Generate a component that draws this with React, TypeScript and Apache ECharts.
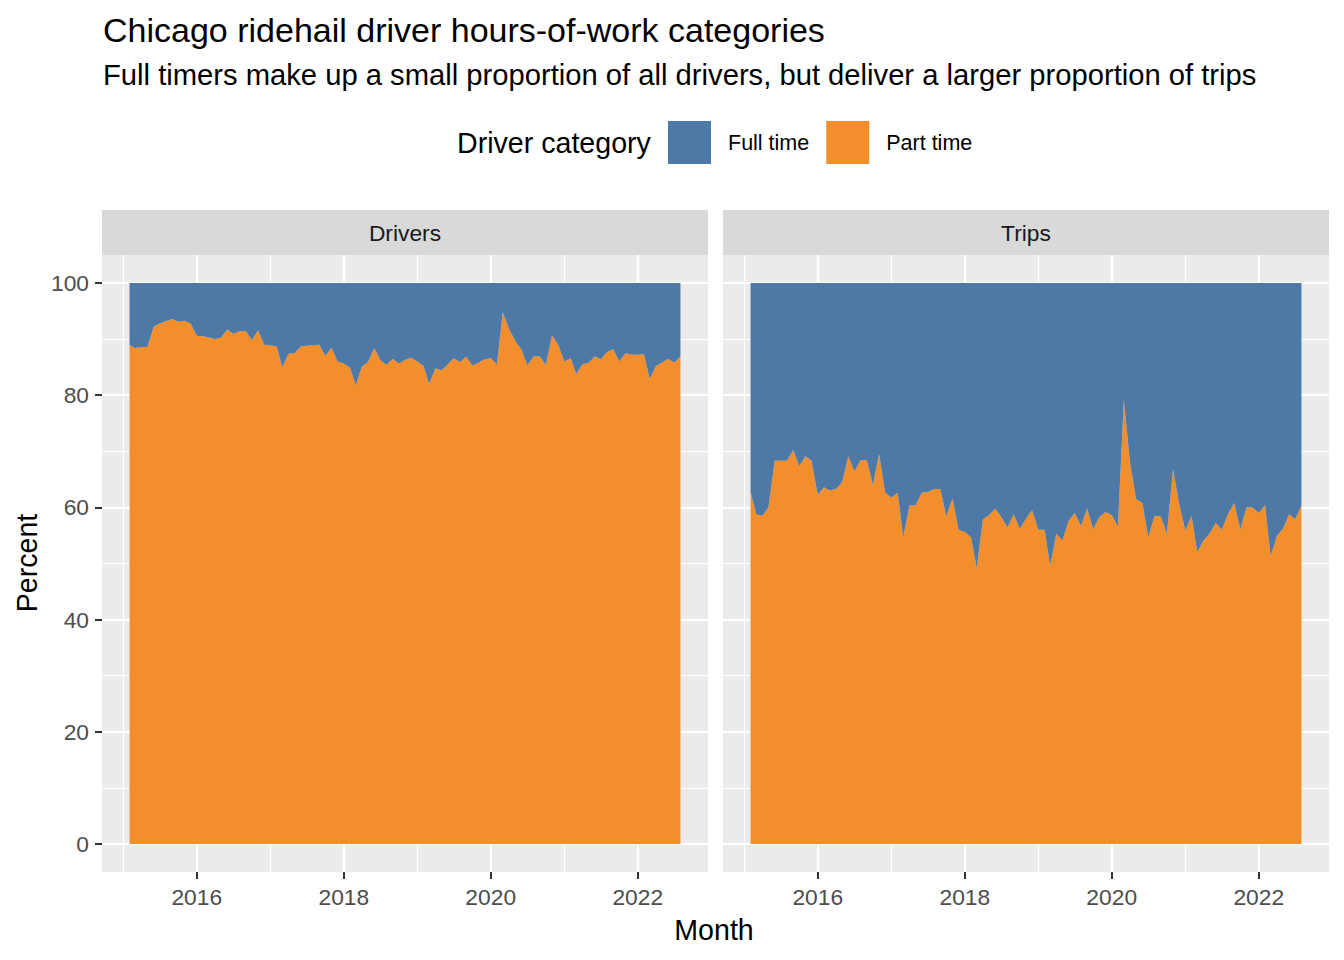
import React, { useEffect, useRef } from "react";
import * as echarts from "echarts";

const START_YEAR = 2015;
const START_MONTH = 1; // 0-based: February
const N_MONTHS = 91;

const driversPart = [
  88.9, 88.4, 88.6, 88.6, 92.2, 92.8, 93.2, 93.6, 93.1, 93.3, 92.8,
  90.6, 90.5, 90.3, 90.0, 90.3, 91.7, 90.9, 91.4, 91.4, 89.8, 91.6, 89.0,
  88.9, 88.7, 85.0, 87.4, 87.5, 88.7, 88.8, 88.9, 89.0, 87.0, 88.4, 86.0,
  85.6, 84.9, 81.8, 85.1, 85.9, 88.4, 86.3, 85.4, 86.5, 85.6, 86.3, 86.7,
  86.0, 85.2, 82.0, 84.8, 84.4, 85.5, 86.6, 85.9, 86.9, 85.3, 85.8, 86.4,
  86.6, 85.5, 94.8, 91.8, 89.7, 88.2, 85.3, 86.9, 86.9, 85.4, 90.7, 89.0,
  86.0, 86.6, 83.8, 85.5, 85.8, 86.9, 86.4, 87.7, 88.2, 86.0, 87.5, 87.2,
  87.2, 87.3, 82.9, 85.2, 85.8, 86.5, 85.8, 86.9,
];
const driversFull = [
  11.1, 11.6, 11.4, 11.4, 7.8, 7.2, 6.8, 6.4, 6.9, 6.7, 7.2,
  9.4, 9.5, 9.7, 10.0, 9.7, 8.3, 9.1, 8.6, 8.6, 10.2, 8.4, 11.0,
  11.1, 11.3, 15.0, 12.6, 12.5, 11.3, 11.2, 11.1, 11.0, 13.0, 11.6, 14.0,
  14.4, 15.1, 18.2, 14.9, 14.1, 11.6, 13.7, 14.6, 13.5, 14.4, 13.7, 13.3,
  14.0, 14.8, 18.0, 15.2, 15.6, 14.5, 13.4, 14.1, 13.1, 14.7, 14.2, 13.6,
  13.4, 14.5, 5.2, 8.2, 10.3, 11.8, 14.7, 13.1, 13.1, 14.6, 9.3, 11.0,
  14.0, 13.4, 16.2, 14.5, 14.2, 13.1, 13.6, 12.3, 11.8, 14.0, 12.5, 12.8,
  12.8, 12.7, 17.1, 14.8, 14.2, 13.5, 14.2, 13.1,
];
const tripsPart = [
  62.8, 58.8, 58.5, 60.0, 68.3, 68.3, 68.3, 70.2, 67.4, 69.1, 68.3,
  62.2, 63.6, 63.0, 63.3, 64.5, 69.1, 66.4, 68.4, 68.4, 64.0, 69.5, 62.6,
  61.7, 62.6, 54.7, 60.3, 60.4, 62.6, 62.7, 63.3, 63.3, 58.4, 61.6, 56.0,
  55.6, 54.7, 49.1, 57.9, 58.6, 59.8, 58.3, 56.4, 58.8, 56.2, 58.0, 59.5,
  56.0, 56.0, 49.6, 55.3, 54.1, 57.6, 59.0, 56.7, 59.8, 56.1, 58.3, 59.2,
  58.6, 56.6, 79.2, 68.0, 61.5, 60.8, 54.7, 58.5, 58.4, 55.3, 66.8, 60.6,
  55.9, 58.5, 52.0, 54.1, 55.3, 57.2, 56.0, 58.8, 60.8, 56.0, 60.0, 60.0,
  59.0, 60.4, 51.3, 54.9, 56.2, 58.8, 57.9, 60.4,
];
const tripsFull = [
  37.2, 41.2, 41.5, 40.0, 31.7, 31.7, 31.7, 29.8, 32.6, 30.9, 31.7,
  37.8, 36.4, 37.0, 36.7, 35.5, 30.9, 33.6, 31.6, 31.6, 36.0, 30.5, 37.4,
  38.3, 37.4, 45.3, 39.7, 39.6, 37.4, 37.3, 36.7, 36.7, 41.6, 38.4, 44.0,
  44.4, 45.3, 50.9, 42.1, 41.4, 40.2, 41.7, 43.6, 41.2, 43.8, 42.0, 40.5,
  44.0, 44.0, 50.4, 44.7, 45.9, 42.4, 41.0, 43.3, 40.2, 43.9, 41.7, 40.8,
  41.4, 43.4, 20.8, 32.0, 38.5, 39.2, 45.3, 41.5, 41.6, 44.7, 33.2, 39.4,
  44.1, 41.5, 48.0, 45.9, 44.7, 42.8, 44.0, 41.2, 39.2, 44.0, 40.0, 40.0,
  41.0, 39.6, 48.7, 45.1, 43.8, 41.2, 42.1, 39.6,
];

const facets = ["Drivers", "Trips"];
const categories = ["Full time", "Part time"];
const yTicks = [0, 20, 40, 60, 80, 100];
const yMinor = [10, 30, 50, 70, 90];
const xTickYears = [2016, 2018, 2020, 2022];
const xMinorYears = [2015, 2017, 2019, 2021];

const months: number[] = [];
for (let i = 0; i < N_MONTHS; i++) {
  months.push(new Date(START_YEAR, START_MONTH + i, 1).getTime());
}

const BLUE = "#4E79A7";
const ORANGE = "#F28E2B";
const FONT = "'Liberation Sans', Arial, sans-serif";

export default function App() {
  const ref = useRef<HTMLDivElement>(null);
  useEffect(() => {
    if (!ref.current) return;
    const chart = echarts.init(ref.current, null, { renderer: "svg" });
    const span = months[months.length - 1] - months[0];
    const xMin = months[0] - span * 0.05;
    const xMax = months[months.length - 1] + span * 0.05;
    const yearTs = (y: number) => new Date(y, 0, 1).getTime();
    const majorX = xTickYears.map(yearTs);

    const panelLeft = [102, 723];
    const panelW = 606;
    const panelTop = 255;
    const panelH = 617;

    const grids = panelLeft.map((l) => ({
      left: l,
      top: panelTop,
      width: panelW,
      height: panelH,
      show: true,
      backgroundColor: "#EBEBEB",
      borderWidth: 0,
      containLabel: false,
    }));

    // time axes carry the stacked areas (0, 1); value axes (2, 3) carry ticks, labels and grid lines
    const timeAxes = facets.map((_, i) => ({
      type: "time",
      gridIndex: i,
      position: "bottom",
      min: xMin,
      max: xMax,
      axisLine: { show: false },
      axisTick: { show: false },
      axisLabel: { show: false },
      splitLine: { show: false },
    }));
    const valueXAxes = facets.map((_, i) => ({
      type: "value",
      gridIndex: i,
      position: "bottom",
      offset: 0,
      min: xMin,
      max: xMax,
      axisLine: { show: false },
      splitLine: { show: false },
      axisTick: {
        show: true,
        length: 7,
        lineStyle: { color: "#333333", width: 2 },
        customValues: majorX,
      },
      axisLabel: {
        show: true,
        margin: 13,
        color: "#4D4D4D",
        fontSize: 22.8,
        fontFamily: FONT,
        customValues: majorX,
        formatter: (v: number) => String(new Date(v).getFullYear()),
      },
    }));

    const yAxes = facets.map((_, i) => ({
      type: "value",
      gridIndex: i,
      min: -5,
      max: 105,
      axisLine: { show: false },
      splitLine: { show: false },
      axisTick: {
        show: i === 0,
        length: 7,
        lineStyle: { color: "#333333", width: 2 },
        customValues: yTicks,
      },
      axisLabel: {
        show: i === 0,
        margin: 13,
        color: "#4D4D4D",
        fontSize: 22.8,
        fontFamily: FONT,
        customValues: yTicks,
      },
    }));

    const gridLineSeries = facets.map((_, i) => ({
      type: "line",
      xAxisIndex: 2 + i,
      yAxisIndex: i,
      data: [],
      silent: true,
      z: 1,
      markLine: {
        silent: true,
        z: 1,
        symbol: ["none", "none"],
        label: { show: false },
        emphasis: { disabled: true },
        data: [
          ...yMinor.map((v) => ({ yAxis: v, lineStyle: { color: "#FFFFFF", width: 1.1, type: "solid" } })),
          ...xMinorYears.map((y) => ({ xAxis: yearTs(y), lineStyle: { color: "#FFFFFF", width: 1.1, type: "solid" } })),
          ...yTicks.map((v) => ({ yAxis: v, lineStyle: { color: "#FFFFFF", width: 2.2, type: "solid" } })),
          ...xTickYears.map((y) => ({ xAxis: yearTs(y), lineStyle: { color: "#FFFFFF", width: 2.2, type: "solid" } })),
        ],
      },
    }));

    const partSets = [driversPart, tripsPart];
    const fullSets = [driversFull, tripsFull];
    const areaSeries: any[] = [];
    facets.forEach((f, i) => {
      areaSeries.push({
        name: "Part time",
        type: "line",
        xAxisIndex: i,
        yAxisIndex: i,
        stack: "s" + i,
        symbol: "none",
        showSymbol: false,
        z: 3,
        lineStyle: { width: 0, color: ORANGE },
        itemStyle: { color: ORANGE },
        areaStyle: { color: ORANGE, opacity: 1 },
        data: months.map((t, k) => [t, partSets[i][k]]),
      });
      areaSeries.push({
        name: "Full time",
        type: "line",
        xAxisIndex: i,
        yAxisIndex: i,
        stack: "s" + i,
        symbol: "none",
        showSymbol: false,
        z: 3,
        lineStyle: { width: 0, color: BLUE },
        itemStyle: { color: BLUE },
        areaStyle: { color: BLUE, opacity: 1 },
        data: months.map((t, k) => [t, fullSets[i][k]]),
      });
    });

    const graphics: any[] = [
      {
        type: "text",
        left: 103,
        top: 13,
        style: { text: "Chicago ridehail driver hours-of-work categories", fill: "#000", font: `34px ${FONT}` },
      },
      {
        type: "text",
        left: 103,
        top: 60,
        style: {
          text: "Full timers make up a small proportion of all drivers, but deliver a larger proportion of trips",
          fill: "#000",
          font: `29.2px ${FONT}`,
        },
      },
      {
        type: "text",
        left: 457,
        top: 128,
        style: { text: "Driver category", fill: "#000", font: `28.6px ${FONT}` },
      },
      {
        type: "text",
        x: 714,
        y: 930,
        style: { text: "Month", fill: "#000", font: `28.6px ${FONT}`, textAlign: "center", textVerticalAlign: "middle" },
      },
      {
        type: "text",
        x: 27,
        y: 563,
        rotation: Math.PI / 2,
        style: { text: "Percent", fill: "#000", font: `28.6px ${FONT}`, textAlign: "center", textVerticalAlign: "middle" },
      },
    ];
    facets.forEach((f, i) => {
      graphics.push({
        type: "rect",
        shape: { x: panelLeft[i], y: 210, width: panelW, height: 45 },
        style: { fill: "#D9D9D9" },
        z: 0,
      });
      graphics.push({
        type: "text",
        x: panelLeft[i] + panelW / 2,
        y: 233,
        style: { text: f, fill: "#1A1A1A", font: `22.8px ${FONT}`, textAlign: "center", textVerticalAlign: "middle" },
        z: 1,
      });
    });

    chart.setOption({
      animation: false,
      backgroundColor: "#FFFFFF",
      textStyle: { fontFamily: FONT },
      grid: grids,
      xAxis: [...timeAxes, ...valueXAxes],
      yAxis: yAxes,
      legend: {
        data: categories,
        left: 668,
        top: 121,
        padding: 0,
        itemWidth: 43,
        itemHeight: 43,
        itemGap: 17,
        icon: "rect",
        selectedMode: false,
        textStyle: { fontSize: 21.5, color: "#000", fontFamily: FONT, padding: [0, 0, 0, 12] },
      },
      graphic: graphics,
      series: [...gridLineSeries, ...areaSeries],
    });
    return () => chart.dispose();
  }, []);
  return <div ref={ref} style={{ position: "absolute", left: 0, top: 0, width: 1344, height: 960 }} />;
}
